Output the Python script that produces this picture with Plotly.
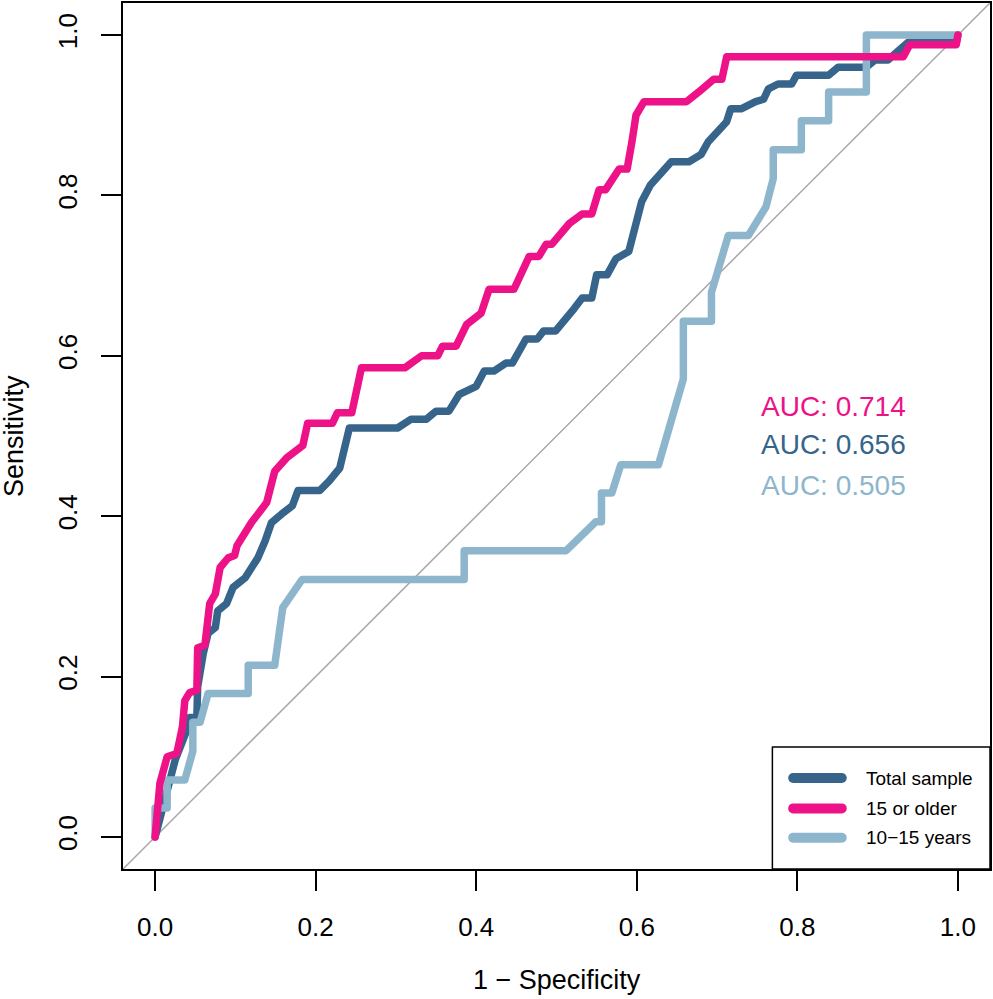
import plotly.graph_objects as go

# ---- data (1 - specificity, sensitivity) ----
total_fpr = [0.000, 0.019, 0.025, 0.041, 0.043, 0.052, 0.053, 0.060, 0.066, 0.075, 0.078, 0.089,
             0.097, 0.112, 0.120, 0.128, 0.137, 0.145, 0.158, 0.171, 0.178, 0.205, 0.217, 0.230,
             0.242, 0.302, 0.319, 0.338, 0.350, 0.366, 0.379, 0.400, 0.410, 0.422, 0.437, 0.445,
             0.462, 0.476, 0.484, 0.499, 0.522, 0.532, 0.544, 0.550, 0.563, 0.574, 0.590, 0.606,
             0.617, 0.643, 0.665, 0.680, 0.689, 0.712, 0.717, 0.730, 0.748, 0.758, 0.764, 0.776,
             0.793, 0.799, 0.839, 0.851, 0.886, 0.897, 0.913, 0.923, 0.938, 0.998, 1.000]
total_tpr = [0.000, 0.080, 0.096, 0.137, 0.149, 0.149, 0.187, 0.229, 0.254, 0.261, 0.282, 0.291,
             0.311, 0.323, 0.336, 0.348, 0.369, 0.392, 0.403, 0.413, 0.432, 0.432, 0.444, 0.460,
             0.510, 0.510, 0.521, 0.521, 0.531, 0.531, 0.552, 0.562, 0.581, 0.581, 0.591, 0.591,
             0.621, 0.621, 0.631, 0.631, 0.659, 0.672, 0.672, 0.701, 0.701, 0.721, 0.730, 0.792,
             0.813, 0.842, 0.842, 0.851, 0.867, 0.892, 0.908, 0.908, 0.917, 0.920, 0.933, 0.939,
             0.939, 0.950, 0.950, 0.960, 0.960, 0.969, 0.969, 0.979, 0.991, 0.991, 1.000]

older_fpr = [0.000, 0.006, 0.015, 0.027, 0.034, 0.037, 0.043, 0.052, 0.053, 0.062, 0.068, 0.075,
             0.081, 0.091, 0.099, 0.102, 0.120, 0.139, 0.149, 0.164, 0.184, 0.190, 0.221, 0.227,
             0.245, 0.257, 0.311, 0.332, 0.352, 0.358, 0.375, 0.388, 0.406, 0.416, 0.447, 0.466,
             0.478, 0.487, 0.494, 0.516, 0.532, 0.544, 0.553, 0.561, 0.578, 0.588, 0.594, 0.599,
             0.609, 0.662, 0.677, 0.696, 0.706, 0.712, 0.932, 0.940, 0.998, 1.000]
older_tpr = [0.000, 0.067, 0.100, 0.104, 0.137, 0.170, 0.180, 0.183, 0.236, 0.239, 0.291, 0.303,
             0.336, 0.348, 0.351, 0.363, 0.392, 0.417, 0.456, 0.473, 0.488, 0.516, 0.516, 0.529,
             0.529, 0.585, 0.585, 0.600, 0.600, 0.612, 0.612, 0.639, 0.653, 0.683, 0.683, 0.724,
             0.724, 0.739, 0.739, 0.765, 0.777, 0.777, 0.807, 0.807, 0.833, 0.833, 0.867, 0.900,
             0.917, 0.917, 0.929, 0.945, 0.945, 0.973, 0.973, 0.988, 0.988, 1.000]

young_fpr = [0.000, 0.000, 0.015, 0.015, 0.037, 0.047, 0.047, 0.056, 0.066, 0.116, 0.116, 0.149,
             0.159, 0.183, 0.385, 0.385, 0.512, 0.549, 0.556, 0.556, 0.569, 0.580, 0.627, 0.658,
             0.658, 0.693, 0.693, 0.714, 0.739, 0.761, 0.770, 0.770, 0.805, 0.805, 0.839, 0.839,
             0.886, 0.886, 1.000]
young_tpr = [0.000, 0.036, 0.036, 0.071, 0.071, 0.107, 0.143, 0.143, 0.179, 0.179, 0.214, 0.214,
             0.286, 0.321, 0.321, 0.357, 0.357, 0.393, 0.393, 0.429, 0.429, 0.464, 0.464, 0.571,
             0.643, 0.643, 0.679, 0.750, 0.750, 0.786, 0.821, 0.857, 0.857, 0.893, 0.893, 0.929,
             0.929, 1.000, 1.000]

series_names = ["Total sample", "15 or older", "10\u221215 years"]
series_colors = ["#36648B", "#EE1289", "#8DB6CD"]
auc_labels = ["AUC: 0.714", "AUC: 0.656", "AUC: 0.505"]
auc_colors = ["#EE1289", "#36648B", "#8DB6CD"]
auc_y = [0.537, 0.489, 0.438]
ticks = [0.0, 0.2, 0.4, 0.6, 0.8, 1.0]
tick_text = ["0.0", "0.2", "0.4", "0.6", "0.8", "1.0"]

FONT = "Liberation Sans, Arial, sans-serif"

fig = go.Figure()
# diagonal reference
fig.add_shape(type="line", xref="x", yref="y", x0=-0.04, y0=-0.04, x1=1.04, y1=1.04,
              line=dict(color="#A8A8A8", width=1.5), layer="below")

fig.add_trace(go.Scatter(x=total_fpr, y=total_tpr, mode="lines", name=series_names[0],
                         line=dict(color=series_colors[0], width=7.5), showlegend=False))
fig.add_trace(go.Scatter(x=young_fpr, y=young_tpr, mode="lines", name=series_names[2],
                         line=dict(color=series_colors[2], width=7.5), showlegend=False))
fig.add_trace(go.Scatter(x=older_fpr, y=older_tpr, mode="lines", name=series_names[1],
                         line=dict(color=series_colors[1], width=7.5), showlegend=False))

for lab, col, yy in zip(auc_labels, auc_colors, auc_y):
    fig.add_annotation(x=0.752, y=yy, xref="x", yref="y", text=lab, showarrow=False,
                       xanchor="left", yanchor="middle",
                       font=dict(family=FONT, size=28, color=col))

# custom legend box
fig.add_shape(type="rect", xref="paper", yref="paper", x0=0.749, x1=1.0, y0=0.0, y1=0.141,
              line=dict(color="black", width=1.5), fillcolor="white", layer="above")
leg_y = [0.105, 0.070, 0.036]
for name, col, yy in zip(series_names, series_colors, leg_y):
    fig.add_shape(type="line", xref="paper", yref="paper", x0=0.773, x1=0.829, y0=yy, y1=yy,
                  line=dict(color=col, width=10), layer="above")
    fig.add_annotation(x=0.855, y=yy, xref="paper", yref="paper", text=name, showarrow=False,
                       xanchor="left", yanchor="middle",
                       font=dict(family=FONT, size=19, color="black"))

# axis titles
fig.add_annotation(x=0.5, y=-0.128, xref="paper", yref="paper", text="1 \u2212 Specificity",
                   showarrow=False, xanchor="center", yanchor="middle",
                   font=dict(family=FONT, size=27, color="black"))
fig.add_annotation(x=-0.1256, y=0.5, xref="paper", yref="paper", text="Sensitivity",
                   showarrow=False, xanchor="center", yanchor="middle", textangle=-90,
                   font=dict(family=FONT, size=27, color="black"))

axis_common = dict(range=[-0.04, 1.04], showgrid=False, zeroline=False,
                   showline=True, linecolor="black", linewidth=1.5, mirror=True,
                   ticks="outside", ticklen=20, tickwidth=1.5, tickcolor="black",
                   tickvals=ticks, ticktext=tick_text, ticklabelstandoff=14,
                   tickfont=dict(family=FONT, size=26, color="black"))

fig.update_layout(width=993, height=999, paper_bgcolor="white", plot_bgcolor="white",
                  margin=dict(l=123, r=2, t=1, b=130), showlegend=False,
                  xaxis=dict(**axis_common),
                  yaxis=dict(**axis_common, tickangle=-90))

post = ("document.body.style.margin='0';"
        "document.querySelectorAll('.js-line, .shapelayer path').forEach(function(p){"
        "p.style.strokeLinejoin='round';p.style.strokeLinecap='round';});")

fig.write_html("out.html", post_script=post, config={"displayModeBar": False})
